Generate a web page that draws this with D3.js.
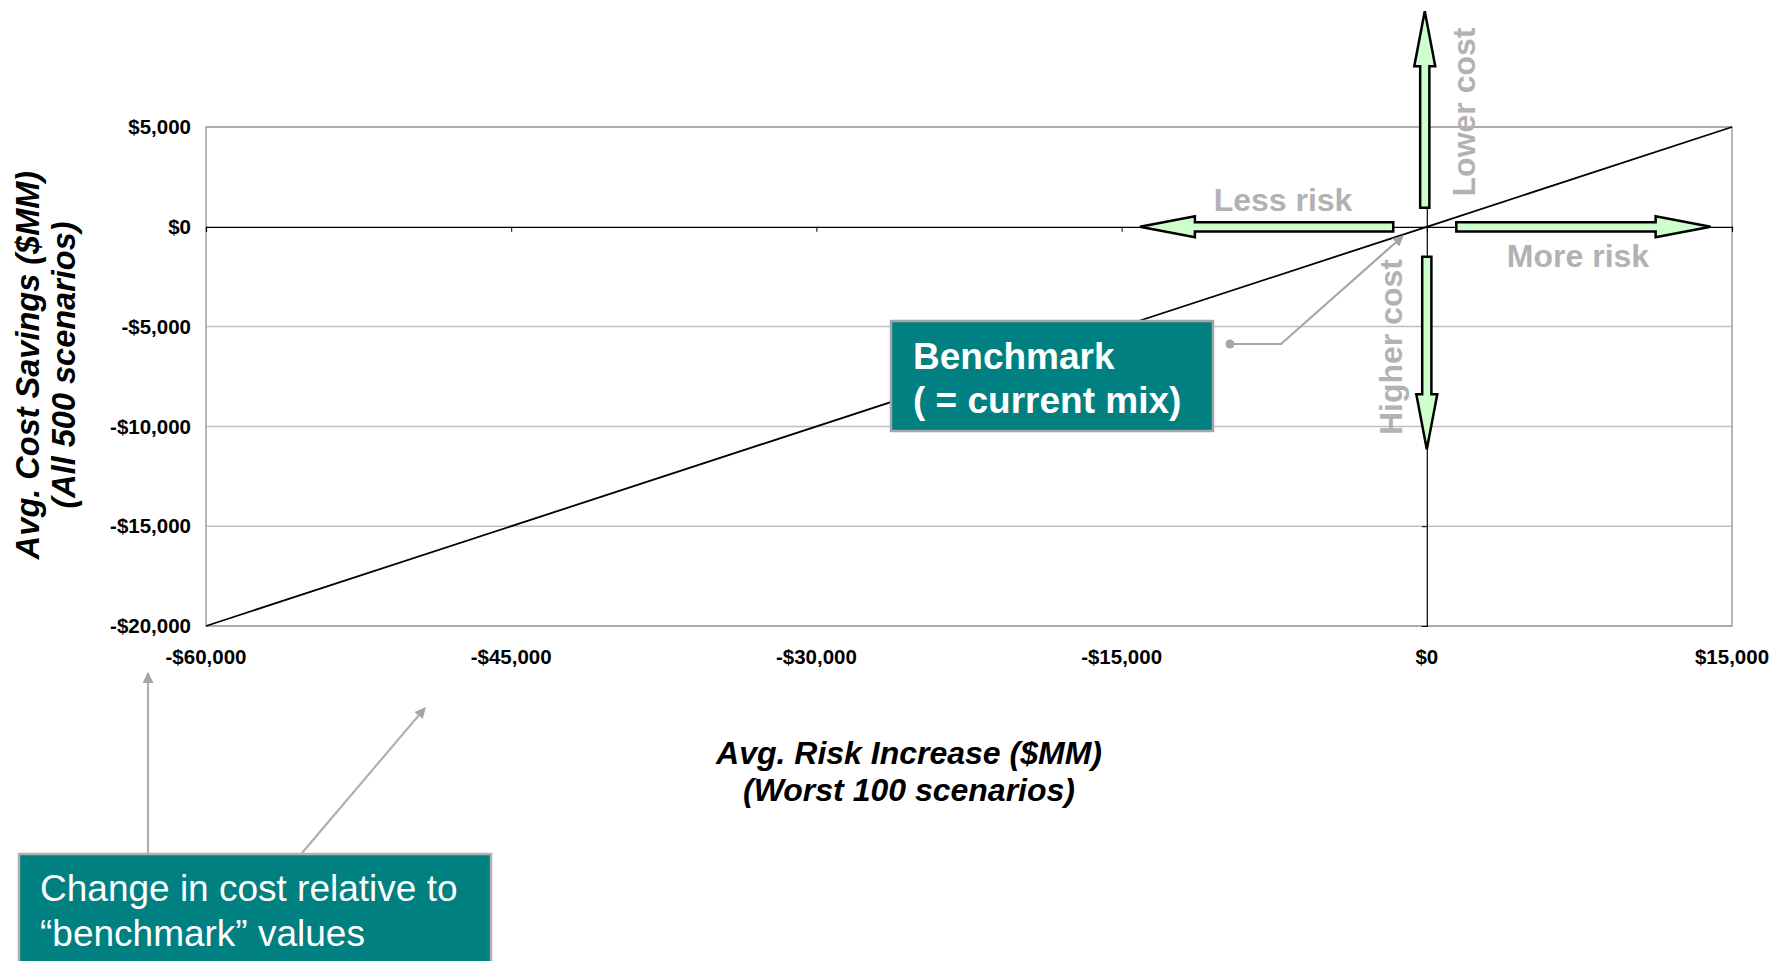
<!DOCTYPE html>
<html>
<head>
<meta charset="utf-8">
<script src="https://cdn.jsdelivr.net/npm/d3@7"></script>
<style>
  body { margin: 0; background: #fff; }
  text { font-family: "Liberation Sans", Arial, sans-serif; }
</style>
</head>
<body>
<svg id="chart" width="1788" height="961"></svg>
<script>
// axis ticks
const xTicks = [-60000, -45000, -30000, -15000, 0, 15000];
const yTicks = [5000, 0, -5000, -10000, -15000, -20000];

// benchmark trade-off line
const lineX = [-60000, 0, 15000];
const lineY = [-20000, 0, 5000];

const xTitle = ["Avg. Risk Increase ($MM)", "(Worst 100 scenarios)"];
const yTitle = ["Avg. Cost Savings ($MM)", "(All 500 scenarios)"];

const svg = d3.select("#chart"),
    margin = { top: 127, right: 56, bottom: 335, left: 206 },
    width = +svg.attr("width") - margin.left - margin.right,
    height = +svg.attr("height") - margin.top - margin.bottom;

const x = d3.scaleLinear().domain([-60000, 15000]).range([margin.left, margin.left + width]);
const y = d3.scaleLinear().domain([-20000, 5000]).range([margin.top + height, margin.top]);

const fmt = d => (d < 0 ? "-" : "") + "$" + d3.format(",")(Math.abs(d));

svg.append("defs").append("marker")
    .attr("id", "gray-head")
    .attr("viewBox", "0 0 10 10")
    .attr("refX", 9).attr("refY", 5)
    .attr("markerWidth", 5).attr("markerHeight", 5)
    .attr("markerUnits", "strokeWidth")
    .attr("orient", "auto")
  .append("path")
    .attr("d", "M0,0 L10,5 L0,10 Z")
    .attr("fill", "#a6a6a6");

// gridlines
svg.append("g")
  .selectAll("line")
  .data(yTicks.filter(d => d !== 0))
  .join("line")
    .attr("x1", x(-60000)).attr("x2", x(15000))
    .attr("y1", d => y(d)).attr("y2", d => y(d))
    .attr("stroke", "#c0c0c0").attr("stroke-width", 1.5);

// plot frame
svg.append("rect")
    .attr("x", x(-60000)).attr("y", y(5000))
    .attr("width", x(15000) - x(-60000)).attr("height", y(-20000) - y(5000))
    .attr("fill", "none").attr("stroke", "#a0a0a0").attr("stroke-width", 1.5);

// x axis through y = 0
const xAxis = svg.append("g")
    .attr("transform", `translate(0,${y(0)})`)
    .call(d3.axisBottom(x).tickValues(xTicks).tickSize(5).tickFormat(""));
xAxis.select(".domain").attr("stroke", "#000").attr("stroke-width", 1.2);
xAxis.selectAll(".tick line").attr("stroke", "#000");

// y axis through x = 0
const yAxis = svg.append("g")
    .attr("transform", `translate(${x(0)},0)`)
    .call(d3.axisLeft(y).tickValues(yTicks).tickSize(5).tickFormat(""));
yAxis.select(".domain").attr("stroke", "#000").attr("stroke-width", 1.2);
yAxis.selectAll(".tick line").attr("stroke", "#000");

// tick labels
svg.append("g")
  .selectAll("text")
  .data(xTicks)
  .join("text")
    .attr("x", d => x(d)).attr("y", y(-20000) + 38)
    .attr("text-anchor", "middle")
    .attr("font-size", 20.5).attr("font-weight", "bold")
    .text(fmt);

svg.append("g")
  .selectAll("text")
  .data(yTicks)
  .join("text")
    .attr("x", x(-60000) - 15).attr("y", d => y(d))
    .attr("dy", "0.35em")
    .attr("text-anchor", "end")
    .attr("font-size", 20.5).attr("font-weight", "bold")
    .text(fmt);

// trade-off line
const pts = lineX.map((v, i) => [v, lineY[i]]);
svg.append("path")
    .datum(pts)
    .attr("d", d3.line().x(d => x(d[0])).y(d => y(d[1])))
    .attr("fill", "none").attr("stroke", "#000").attr("stroke-width", 1.8);

// axis titles
svg.append("text")
    .attr("x", 909).attr("y", 764)
    .attr("text-anchor", "middle")
    .attr("font-size", 32).attr("font-weight", "bold").attr("font-style", "italic")
  .selectAll("tspan")
  .data(xTitle)
  .join("tspan")
    .attr("x", 909).attr("dy", (d, i) => i ? 37 : 0)
    .text(d => d);

yTitle.forEach((t, i) => {
  svg.append("text")
      .attr("transform", `translate(${39 + i * 36},365) rotate(-90)`)
      .attr("text-anchor", "middle")
      .attr("font-size", 32.5).attr("font-weight", "bold").attr("font-style", "italic")
      .text(t);
});

// direction arrows (block arrows)
function blockArrow(x1, y1, x2, y2, sw, hw, hl) {
  const dx = x2 - x1, dy = y2 - y1, len = Math.hypot(dx, dy);
  const ux = dx / len, uy = dy / len, nx = -uy, ny = ux;
  const bx = x2 - ux * hl, by = y2 - uy * hl;
  const p = [
    [x1 + nx * sw, y1 + ny * sw], [bx + nx * sw, by + ny * sw], [bx + nx * hw, by + ny * hw],
    [x2, y2],
    [bx - nx * hw, by - ny * hw], [bx - nx * sw, by - ny * sw], [x1 - nx * sw, y1 - ny * sw]
  ];
  return "M" + p.map(q => q.join(",")).join("L") + "Z";
}

const arrows = [
  { from: [-1650, 0], to: [-14100, 0] },
  { from: [1450, 0], to: [13950, 0] },
  { from: [-100, 950], to: [-100, 10800] },
  { from: [0, -1500], to: [0, -11150] }
];
svg.append("g")
  .selectAll("path")
  .data(arrows)
  .join("path")
    .attr("d", d => blockArrow(x(d.from[0]), y(d.from[1]), x(d.to[0]), y(d.to[1]), 4.6, 10.5, 55))
    .attr("fill", "#ccffcc").attr("stroke", "#000").attr("stroke-width", 2.5)
    .attr("stroke-linejoin", "miter");

const arrowLabels = [
  { text: "Less risk", x: 1283, y: 211, rot: 0 },
  { text: "More risk", x: 1578, y: 267, rot: 0 },
  { text: "Lower cost", x: 1475, y: 112, rot: -90 },
  { text: "Higher cost", x: 1402, y: 347, rot: -90 }
];
svg.append("g")
  .selectAll("text")
  .data(arrowLabels)
  .join("text")
    .attr("transform", d => `translate(${d.x},${d.y}) rotate(${d.rot})`)
    .attr("text-anchor", "middle")
    .attr("font-size", 32).attr("font-weight", "bold")
    .attr("fill", "#b2b2b2")
    .text(d => d.text);

// benchmark callout
svg.append("path")
    .attr("d", `M1230,344 L1281,344 L1403,236`)
    .attr("fill", "none").attr("stroke", "#a6a6a6").attr("stroke-width", 2.2)
    .attr("marker-end", "url(#gray-head)");
svg.append("circle").attr("cx", 1230).attr("cy", 344).attr("r", 4.5).attr("fill", "#a6a6a6");

svg.append("rect")
    .attr("x", 891).attr("y", 321).attr("width", 322).attr("height", 110)
    .attr("fill", "#008080").attr("stroke", "#a6a6a6").attr("stroke-width", 2.5);
svg.append("text")
    .attr("font-size", 37).attr("font-weight", "bold").attr("fill", "#fff")
  .selectAll("tspan")
  .data(["Benchmark", "( = current mix)"])
  .join("tspan")
    .attr("x", 913).attr("y", (d, i) => 369 + i * 44)
    .text(d => d);

// note box with pointers
svg.append("path")
    .attr("d", "M148,853 L148,673")
    .attr("stroke", "#b0b0b0").attr("stroke-width", 2.2).attr("fill", "none")
    .attr("marker-end", "url(#gray-head)");
svg.append("path")
    .attr("d", "M302,853 L425,708")
    .attr("stroke", "#b0b0b0").attr("stroke-width", 2.2).attr("fill", "none")
    .attr("marker-end", "url(#gray-head)");

svg.append("rect")
    .attr("x", 19).attr("y", 854).attr("width", 472).attr("height", 120)
    .attr("fill", "#008080").attr("stroke", "#b0b0b0").attr("stroke-width", 2.5);
svg.append("text")
    .attr("font-size", 37).attr("fill", "#fff")
  .selectAll("tspan")
  .data(["Change in cost relative to", "\u201cbenchmark\u201d values"])
  .join("tspan")
    .attr("x", 40).attr("y", (d, i) => 901 + i * 45)
    .text(d => d);
</script>
</body>
</html>
